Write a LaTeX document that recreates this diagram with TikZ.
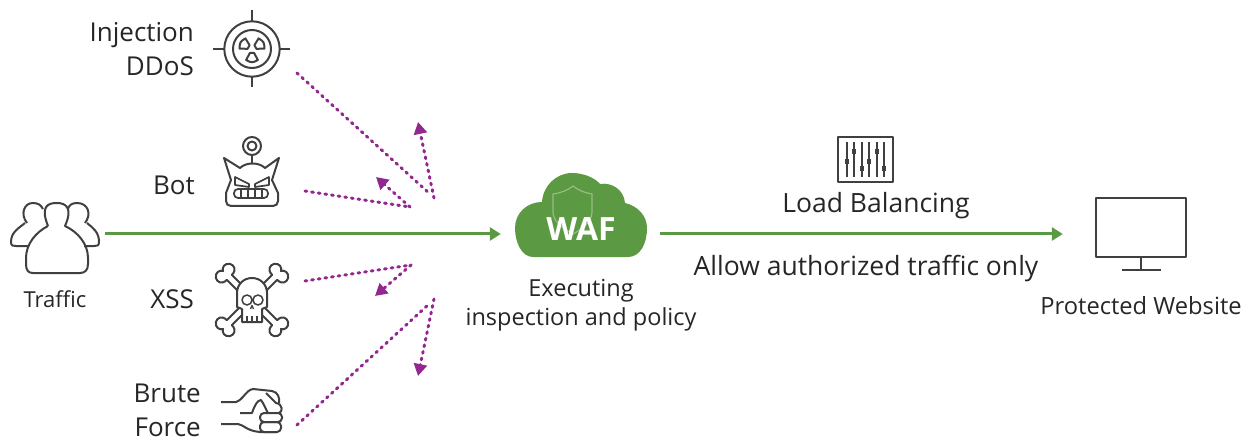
\documentclass[tikz,border=0pt]{standalone}
\usepackage{fontspec}
\setmainfont{Open Sans}
\usetikzlibrary{arrows.meta}
\definecolor{wafgreen}{HTML}{5C9943}
\definecolor{attackpurple}{HTML}{92278F}
\definecolor{icongray}{HTML}{404040}
\definecolor{labelgray}{HTML}{262626}
\begin{document}
\begin{tikzpicture}[
    x=1pt,y=-1pt,
    flow/.style={line width=3pt,wafgreen,-{Triangle[length=11pt,width=13pt]}},
    attack/.style={line width=3pt,attackpurple,line cap=round,dash pattern=on 1.8pt off 4.9pt},
    bounce/.style={attack,-{Triangle[length=12pt,width=13pt]}},
    icon/.style={line width=2pt,icongray,line join=round},
    iconbox/.style={inner sep=0pt,minimum height=20pt},
    lbl/.style={inner sep=0pt,text=labelgray,font=\fontsize{26.5}{34}\selectfont},
    sidelbl/.style={lbl,anchor=east,align=right,font=\fontsize{26}{34}\selectfont},
    bone/.pic={
      \draw[icon,fill=white] (14,-3.5) -- (32,-3.5) .. controls (32,-11) and (38,-12) .. (41,-10)
        .. controls (46,-7) and (44,-1) .. (41,0) .. controls (44,1) and (46,7) .. (41,10)
        .. controls (38,12) and (32,11) .. (32,3.5) -- (14,3.5);
    }
    ]
    \useasboundingbox (0,0) rectangle (1246,438);

    % invisible boxes the green arrows run between
    \node (traffic) [iconbox,minimum width=100pt] at (55,234) {};
    \node (firewall) [iconbox,minimum width=159pt] at (580.5,234) {};
    \node (website) [iconbox,minimum width=156pt] at (1141,234) {};

    % cloud
    \fill[wafgreen] (533,257) .. controls (522,257) and (515,243) .. (515,228)
      .. controls (515,213) and (527,202) .. (542,202)
      .. controls (543,186) and (556,173) .. (572,173)
      .. controls (584,173) and (595,178) .. (600,184)
      .. controls (612,182) and (624,190) .. (625,203)
      .. controls (638,206) and (647,216) .. (647,228)
      .. controls (647,244) and (640,257) .. (628,257) -- cycle;
    \draw[line width=1.2pt,wafgreen!65!white] (553,194) .. controls (561,193) and (568,190) .. (573,186)
      .. controls (578,190) and (585,193) .. (592,194) -- (592,212) .. controls (592,222) and (582,229) .. (573,234)
      .. controls (564,229) and (553,222) .. (553,212) -- cycle;
    \node (waflabel) [inner sep=0pt,text=white,font=\fontsize{32}{32}\selectfont\bfseries] at (581,229) {WAF};

    % target
    \draw[icon] (252,49) circle[radius=27.7pt] (252,49) circle[radius=19pt];
    \draw[icon] (213,49) -- (224,49) (280,49) -- (290,49) (252,10) -- (252,21) (252,77) -- (252,87);
    \foreach \a in {90,210,330}
      \draw[icon,shift={(252,49)}] (\a-28:4.5) -- (\a-28:12.5) .. controls (\a:14) .. (\a+28:12.5) -- (\a+28:4.5) -- cycle;

    % bot
    \draw[icon] (252,146) circle[radius=9pt] (252,146) circle[radius=4.5pt];
    \draw[icon] (252,155) -- (252,163);
    \draw[icon] (224,158) -- (240,168) .. controls (246,162) and (259,162) .. (265,168) -- (279,158) -- (272,180)
      -- (278,193) -- (278,201) .. controls (278,204) and (276,206) .. (273,206) -- (231,206)
      .. controls (228,206) and (226,204) .. (226,201) -- (226,193) -- (231,180) -- cycle;
    \draw[icon,line width=1.7pt] (235,177) -- (249,184) -- (249,187) -- (235,185) -- cycle
      (269,177) -- (255,184) -- (255,187) -- (269,185) -- cycle;
    \draw[icon,line width=1.7pt,rounded corners=4pt] (234,189) rectangle (268,198);
    \foreach \x in {241,248,255,262}
      \draw[icon,line width=1.7pt] (\x,189) -- (\x,198);

    % skull and bones
    \foreach \a in {45,135,225,315}
      \pic[rotate=\a] at (252,300) {bone};
    \draw[icon,fill=white] (242,322) -- (242,309) -- (237,307) -- (237,293)
      .. controls (237,284) and (244,278) .. (252,278) .. controls (260,278) and (267,284) .. (267,293)
      -- (267,307) -- (262,309) -- (262,322) -- cycle;
    \draw[icon,line width=1.5pt] (247,300) circle[radius=5pt] (258,300) circle[radius=5pt];
    \draw[icon,line width=1.3pt] (250.5,309) -- (252,305.5) -- (253.5,309);
    \foreach \x in {247,252,257}
      \draw[icon,line width=1.3pt] (\x,316) -- (\x,322);

    % fist
    \draw[icon] (221,402) -- (236,402) .. controls (243,400) and (246,390) .. (253,389) -- (272,391)
      .. controls (278,392) and (280,398) .. (279,403);
    \draw[icon] (221,424) -- (238,424) .. controls (244,425) and (247,431) .. (260,432) -- (277,432);
    \draw[icon,rounded corners=4pt] (260,422) rectangle (281,432);
    \draw[icon,rounded corners=4pt] (260,413) rectangle (282,422);
    \draw[icon] (240,413) -- (252,413) .. controls (254,407) and (257,400) .. (261,400) .. controls (264,404) and (266,410) .. (268,413);
    \draw[icon] (266,393) -- (276,403) .. controls (283,404) and (283,412) .. (279,413);

    % traffic
    \draw[icon] (25,223) .. controls (19,228) and (11,232) .. (11,242) .. controls (11,246) and (13,246) .. (16,246) -- (28,246);
    \draw[icon] (27,223) .. controls (20,214) and (24,203) .. (33,203) .. controls (38,203) and (41,205) .. (43,209);
    \draw[icon] (87,223) .. controls (93,228) and (99,232) .. (99,242) .. controls (99,246) and (97,246) .. (94,246) -- (84,246);
    \draw[icon] (85,223) .. controls (92,214) and (88,203) .. (77,203) .. controls (72,203) and (69,205) .. (68,209);
    \draw[icon] (48,226) .. controls (40,206) and (48,203) .. (57,203) .. controls (66,203) and (73,208) .. (65,226)
      .. controls (78,232) and (88,244) .. (88,258) -- (88,264) .. controls (88,270) and (85,273) .. (80,273)
      -- (33,273) .. controls (28,273) and (26,270) .. (26,264) -- (26,258) .. controls (26,244) and (36,232) .. (48,226);

    % load balancing
    \draw[icon] (838,137) rectangle (893,182);
    \foreach \x/\y in {847/162,854/152,862/169,869/162,877/152,884/169} {
      \draw[icon] (\x,142) -- (\x,177);
      \fill[icongray] (\x-2,\y-2.5) rectangle (\x+2,\y+2.5);
    }

    % monitor
    \draw[icon] (1096,198) rectangle (1186,257);
    \draw[icon] (1141,257) -- (1141,270) (1122,270) -- (1161,270);

    \node (injectionlabel) [sidelbl] at (194,49) {Injection\\DDoS};
    \node (botlabel) [sidelbl] at (195,185) {Bot};
    \node (trafficlabel) [lbl,font=\fontsize{22}{28}\selectfont] at (55,299) {Traffic};
    \node (xsslabel) [sidelbl] at (194,299) {XSS};
    \node (brutelabel) [sidelbl] at (201,410) {Brute\\Force};
    \node (execlabel) [lbl,align=center,font=\fontsize{23.5}{29}\selectfont] at (581,305) {Executing\\inspection and policy};
    \node (balancelabel) [lbl] at (876,206) {Load Balancing};
    \node (allowlabel) [lbl] at (866,269) {Allow authorized traffic only};
    \node (websitelabel) [lbl,font=\fontsize{23.7}{29}\selectfont] at (1141,306) {Protected Website};

    \draw[flow] (traffic) -- (firewall);
    \draw[flow] (firewall) -- (website);

    % attacks and what bounces back
    \coordinate (injection) at (297,73);
    \coordinate (injectionhit) at (430,194);
    \coordinate (injectionfrom) at (434,198);
    \coordinate (injectionback) at (418,122);
    \coordinate (bot) at (305,191);
    \coordinate (bothit) at (410,207);
    \coordinate (botback) at (376,177);
    \coordinate (xss) at (305,281);
    \coordinate (xsshit) at (411,265);
    \coordinate (xssback) at (375,296);
    \coordinate (brute) at (297,425);
    \coordinate (brutehit) at (429,304);
    \coordinate (brutefrom) at (434,299);
    \coordinate (bruteback) at (418,376);

    \draw[attack] (injection) -- (injectionhit);
    \draw[bounce] (injectionfrom) -- (injectionback);
    \draw[attack] (bot) -- (bothit);
    \draw[bounce] (bothit) -- (botback);
    \draw[attack] (xss) -- (xsshit);
    \draw[bounce] (xsshit) -- (xssback);
    \draw[attack] (brute) -- (brutehit);
    \draw[bounce] (brutefrom) -- (bruteback);
  \end{tikzpicture}
\end{document}
